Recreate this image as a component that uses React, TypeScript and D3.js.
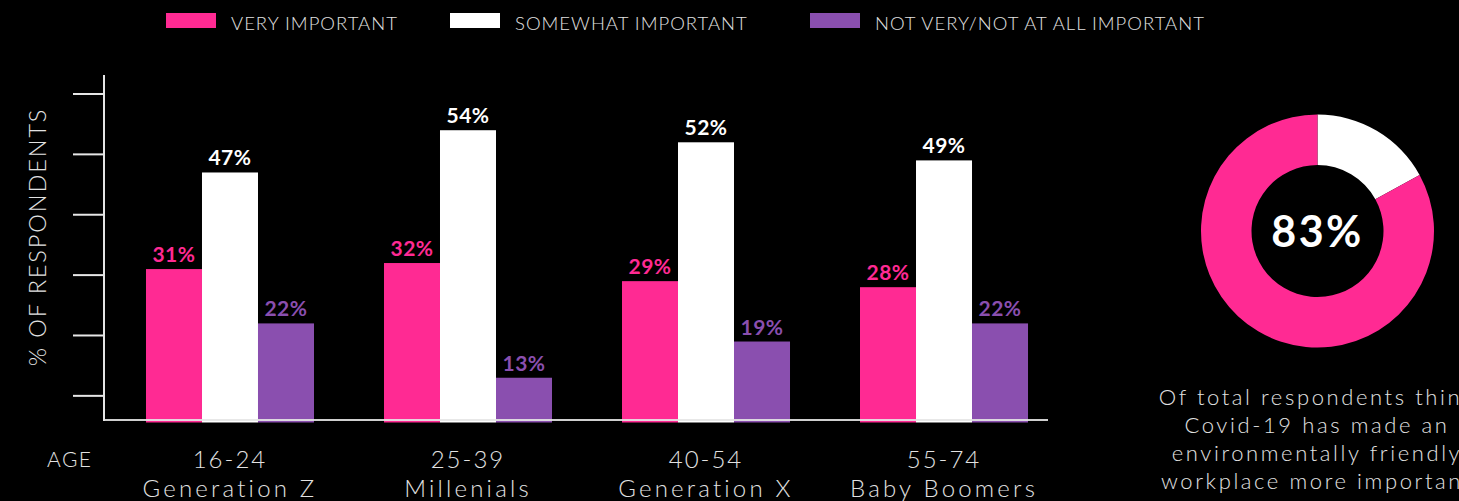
import React from "react";
import * as d3 from "d3";

const ageRanges = ["16-24", "25-39", "40-54", "55-74"];
const generations = ["Generation Z", "Millenials", "Generation X", "Baby Boomers"];
const seriesNames = ["VERY IMPORTANT", "SOMEWHAT IMPORTANT", "NOT VERY/NOT AT ALL IMPORTANT"];
const veryImportant = [31, 32, 29, 28];
const somewhatImportant = [47, 54, 52, 49];
const notImportant = [22, 13, 19, 22];
const yTicks = [10, 20, 30, 40, 50, 60];
const donutValues = [17, 83];
const donutLabel = "83%";
const captionLines = [
  "Of total respondents think",
  "Covid-19 has made an",
  "environmentally friendly",
  "workplace more important",
];

const W = 1459;
const H = 501;
const COLORS = ["#FF2A93", "#FFFFFF", "#8A4FAF"];
const AXIS = "#e6e6e6";
const LIGHT = "Lato, 'Open Sans', sans-serif";

export default function App() {
  const seriesValues = [veryImportant, somewhatImportant, notImportant];
  const baseY = 420;
  const y = d3.scaleLinear().domain([6, 60]).range([baseY, 94]);
  const x0 = d3.scaleBand<string>().domain(ageRanges).range([111, 1063]).paddingInner(0.2941).paddingOuter(0.147);
  const x1 = d3.scaleBand<string>().domain(seriesNames).range([0, x0.bandwidth()]).padding(0);

  const pie = d3.pie<number>().sort(null).value((d) => d);
  const arcs = pie(donutValues);
  const arcGen = d3.arc<d3.PieArcDatum<number>>().innerRadius(66).outerRadius(116.5);
  const donutColors = ["#FFFFFF", "#FF2A93"];

  const legendX = [166, 450, 810];

  React.useEffect(() => {
    document.body.style.margin = "0";
    document.body.style.background = "#000";
  }, []);

  return (
    <svg width={W} height={H} style={{ position: "absolute", left: 0, top: 0, display: "block" }}>
      <rect x={0} y={0} width={W} height={H} fill="#000" />
      {/* legend */}
      {seriesNames.map((s, i) => (
        <g key={s} transform={`translate(${legendX[i]},0)`}>
          <rect x={0} y={13} width={50} height={15} fill={COLORS[i]} />
          <text x={65} y={30} fill="#e2e2e2" fontFamily={LIGHT} fontWeight={300} fontSize={18.5} letterSpacing={1}>
            {s}
          </text>
        </g>
      ))}
      {/* y axis title */}
      <text
        transform={`translate(46,237) rotate(-90)`}
        textAnchor="middle"
        fill="#e2e2e2"
        fontFamily={LIGHT}
        fontWeight={300}
        fontSize={23.5}
        letterSpacing={1.9}
      >
        % OF RESPONDENTS
      </text>
      {/* bars */}
      {ageRanges.map((a, gi) => (
        <g key={a} transform={`translate(${x0(a)},0)`}>
          {seriesNames.map((s, si) => {
            const v = seriesValues[si][gi];
            const bx = x1(s) as number;
            return (
              <g key={s}>
                <rect x={bx} y={y(v)} width={x1.bandwidth()} height={baseY + 2.5 - y(v)} fill={COLORS[si]} />
                <text
                  x={bx + x1.bandwidth() / 2}
                  y={y(v) - 7}
                  textAnchor="middle"
                  fill={COLORS[si]}
                  fontFamily="Lato, 'Open Sans', sans-serif"
                  fontWeight={700}
                  fontSize={21}
                  letterSpacing={0.5}
                >
                  {v}%
                </text>
              </g>
            );
          })}
        </g>
      ))}
      {/* axes */}
      <line x1={104} x2={104} y1={75} y2={baseY + 1} stroke={AXIS} strokeWidth={2} />
      {yTicks.map((t) => (
        <line key={t} x1={73} x2={104} y1={y(t)} y2={y(t)} stroke={AXIS} strokeWidth={2} />
      ))}
      <line x1={103} x2={1048} y1={baseY} y2={baseY} stroke={AXIS} strokeWidth={2} opacity={0.9} />
      {/* x labels */}
      <text x={47} y={467} fill="#e2e2e2" fontFamily={LIGHT} fontWeight={300} fontSize={21} letterSpacing={1.5}>
        AGE
      </text>
      {ageRanges.map((a, i) => (
        <g key={a}>
          <text
            x={(x0(a) as number) + x0.bandwidth() / 2}
            y={468}
            textAnchor="middle"
            fill="#e2e2e2"
            fontFamily={LIGHT}
            fontWeight={300}
            fontSize={24}
            letterSpacing={2}
          >
            {a}
          </text>
          <text
            x={(x0(a) as number) + x0.bandwidth() / 2}
            y={497}
            textAnchor="middle"
            fill="#e2e2e2"
            fontFamily={LIGHT}
            fontWeight={300}
            fontSize={24}
            letterSpacing={3.2}
          >
            {generations[i]}
          </text>
        </g>
      ))}
      {/* donut */}
      <g transform="translate(1317.5,231)">
        {arcs.map((d, i) => (
          <path key={i} d={arcGen(d) as string} fill={donutColors[i]} />
        ))}
        <text
          x={0}
          y={16}
          textAnchor="middle"
          fill="#fff"
          fontFamily="Lato, 'Open Sans', sans-serif"
          fontWeight={700}
          fontSize={43}
          letterSpacing={2.5}
        >
          {donutLabel}
        </text>
      </g>
      {captionLines.map((l, i) => (
        <text
          key={l}
          x={1317}
          y={405 + i * 28}
          textAnchor="middle"
          fill="#e2e2e2"
          fontFamily={LIGHT}
          fontWeight={300}
          fontSize={22}
          letterSpacing={2.6}
        >
          {l}
        </text>
      ))}
    </svg>
  );
}
